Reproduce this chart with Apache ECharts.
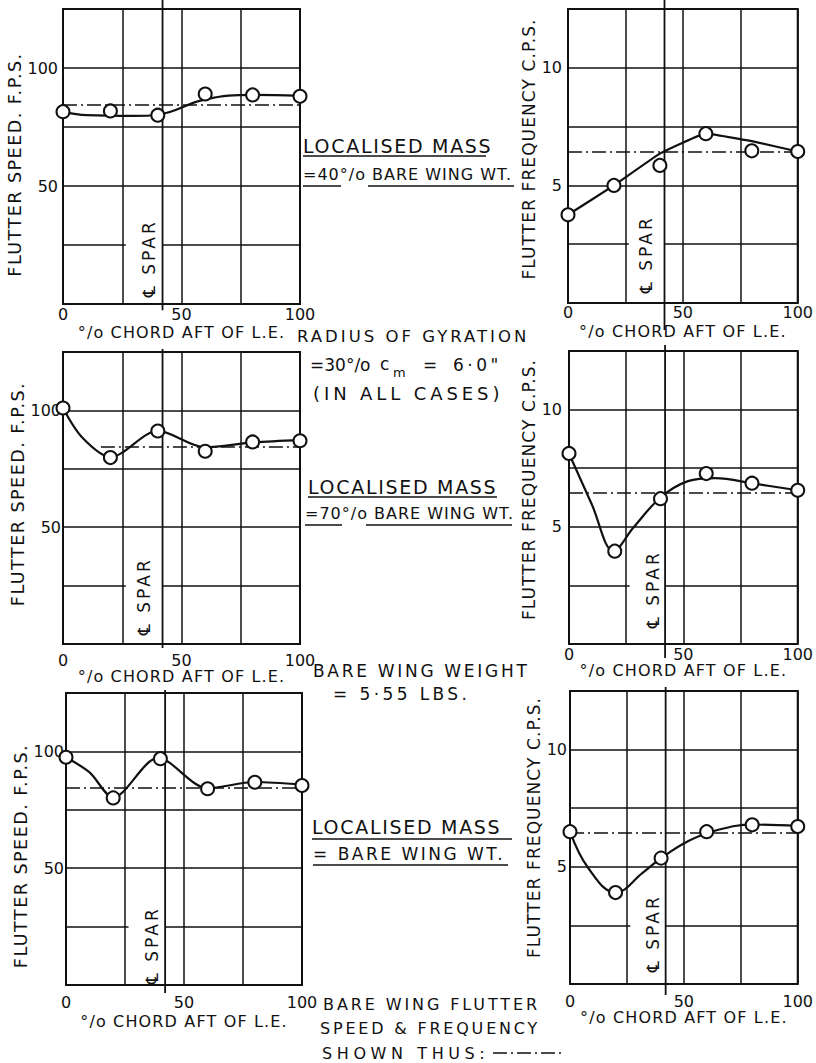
<!DOCTYPE html>
<html>
<head>
<meta charset="utf-8">
<title>Flutter speed and frequency vs. position of localised mass</title>
<script src="https://cdn.jsdelivr.net/npm/echarts@6.0.0/dist/echarts.min.js"></script>
<style>
  html, body { margin: 0; padding: 0; background: #fff; }
  #chart { width: 816px; height: 1063px; }
</style>
</head>
<body>
<div id="chart"></div>
<script>
// ---------------- data ----------------
// test positions of the localised mass, % chord aft of the leading edge
const chordPos = [0, 20, 40, 60, 80, 100];

// measured flutter speed (F.P.S.) and frequency (C.P.S.)
const speed40  = [81.5, 81.8, 80.0, 89.0, 88.6, 88.0];
const freq40   = [3.75, 5.0, 5.85, 7.2, 6.47, 6.44];
const speed70  = [101, 79.8, 91.2, 82.5, 86.5, 87.0];
const freq70   = [8.13, 3.96, 6.2, 7.27, 6.86, 6.56];
const speed100 = [97.5, 80.1, 96.9, 84.0, 86.8, 85.4];
const freq100  = [6.5, 3.9, 5.37, 6.5, 6.79, 6.72];

// faired curves drawn through the test points
const fair40SpeedX  = [0, 10, 30, 40, 60, 80, 100];
const fair40SpeedY  = [81.4, 80.0, 79.7, 80.2, 86.7, 88.6, 88.2];
const fair40FreqX   = [0, 20, 40, 60, 80, 100];
const fair40FreqY   = [3.75, 5.0, 6.35, 7.2, 6.88, 6.44];
const fair70SpeedX  = [0, 8, 20, 40, 60, 80, 100];
const fair70SpeedY  = [101, 88.5, 80.0, 91.2, 84.2, 86.3, 87.3];
const fair70FreqX   = [0, 10, 19.5, 28, 40, 52, 64, 81, 100];
const fair70FreqY   = [8.13, 5.95, 3.95, 4.95, 6.25, 6.95, 7.08, 6.84, 6.56];
const fair100SpeedX = [0, 10, 20, 39, 60, 80, 100];
const fair100SpeedY = [97.5, 91.0, 80.3, 97.2, 84.2, 86.9, 85.8];
const fair100FreqX  = [0, 8, 20, 32, 40, 52, 64, 80, 100];
const fair100FreqY  = [6.5, 4.95, 3.9, 4.75, 5.37, 6.1, 6.55, 6.8, 6.74];

// bare wing reference values and spar position
const bareSpeed = 84.5;
const bareFreq = 6.45;
const sparPos = 42;

// axis ticks and labelled values
const speedTicks = [0, 25, 50, 75, 100, 125];
const freqTicks  = [0, 2.5, 5, 7.5, 10, 12.5];
const chordTicks = [0, 25, 50, 75, 100];
const speedLabelled = [50, 100];
const freqLabelled  = [5, 10];
const chordLabelled = [0, 50, 100];

// ---------------- styling / layout ----------------
const INK = '#111';
const FONT = "'DejaVu Sans', 'Liberation Sans', sans-serif";
const CHORD_NAME = '°/o CHORD AFT OF L.E.';
const SPEED_NAME = 'FLUTTER SPEED. F.P.S.';
const FREQ_NAME  = 'FLUTTER FREQUENCY C.P.S.';
const DASH_DOT = [14, 4, 2, 4];

const panels = [
  { q: 'speed', pts: speed40, fx: fair40SpeedX, fy: fair40SpeedY, bareFrom: 0, smooth: 0.4,
    box: { left: 63, top: 9, width: 237, height: 295 },
    yNameGap: 31, yNameShift: 8, yLabelMargin: 5, xLabelMargin: 2, xNameGap: 20,
    sparEnds: [-2.6, 128.8], sparLabel: [7, 5] },
  { q: 'freq', pts: freq40, fx: fair40FreqX, fy: fair40FreqY, bareFrom: 0, smooth: 0.1,
    box: { left: 568, top: 9, width: 233, height: 294 },
    yNameGap: 22, yNameShift: -7, yLabelMargin: 6, xLabelMargin: 1, xNameGap: 20,
    sparEnds: [-1.15, 12.88], sparLabel: [10, 10] },
  { q: 'speed', pts: speed70, fx: fair70SpeedX, fy: fair70SpeedY, bareFrom: 16, smooth: 0.3,
    box: { left: 63, top: 352, width: 237, height: 292 },
    yNameGap: 31, yNameShift: -4, yLabelMargin: 2, xLabelMargin: 8, xNameGap: 20,
    sparEnds: [-1.7, 126.3], sparLabel: [9, 10] },
  { q: 'freq', pts: freq70, fx: fair70FreqX, fy: fair70FreqY, bareFrom: 0, smooth: 0.35,
    box: { left: 569, top: 351, width: 232, height: 293 },
    yNameGap: 23, yNameShift: -8, yLabelMargin: 7, xLabelMargin: 2, xNameGap: 18,
    sparEnds: [-0.6, 12.76], sparLabel: [16, 4] },
  { q: 'speed', pts: speed100, fx: fair100SpeedX, fy: fair100SpeedY, bareFrom: 0, smooth: 0.3,
    box: { left: 66, top: 693, width: 236, height: 292 },
    yNameGap: 30, yNameShift: 17, yLabelMargin: 2, xLabelMargin: 9, xNameGap: 28,
    sparEnds: [-3.4, 126.3], sparLabel: [1, 5] },
  { q: 'freq', pts: freq100, fx: fair100FreqX, fy: fair100FreqY, bareFrom: 0, smooth: 0.4,
    box: { left: 570, top: 691, width: 232, height: 293 },
    yNameGap: 22, yNameShift: -10, yLabelMargin: 3, xLabelMargin: 9, xNameGap: 24,
    sparEnds: [-0.47, 12.67], sparLabel: [12, 4] }
];

// letter spacing of the hand-lettered captions (px)
const SPACING = {
  [SPEED_NAME]: 1.5,
  [FREQ_NAME]: 1.1,
  [CHORD_NAME]: 1.15,
  '℄ SPAR': 3,
  'LOCALISED MASS': 1.7,
  '=40°/o BARE WING WT.': 1.0,
  '=70°/o BARE WING WT.': 1.0,
  'RADIUS OF GYRATION': 3.0,
  '(IN ALL CASES)': 3.9,
  'BARE WING WEIGHT': 2.7,
  '= 5·55 LBS.': 3.4,
  '= BARE WING WT.': 2.5,
  'BARE WING FLUTTER': 2.9,
  'SPEED & FREQUENCY': 2.8,
  'SHOWN THUS:': 4.6,
  '6·0"': 3.5
};

// ---------------- build option ----------------
const grid = [], xAxis = [], yAxis = [], series = [];

panels.forEach((p, i) => {
  const isSpeed = p.q === 'speed';
  const ticks = isSpeed ? speedTicks : freqTicks;
  const labelled = isSpeed ? speedLabelled : freqLabelled;
  const bare = isSpeed ? bareSpeed : bareFreq;
  const step = ticks[1] - ticks[0];
  const yTop = ticks[ticks.length - 1];
  const shift = p.yNameShift;

  grid.push(Object.assign({ show: true, borderColor: INK, borderWidth: 2,
    backgroundColor: 'transparent', containLabel: false }, p.box));

  xAxis.push({
    gridIndex: i, type: 'value', min: chordTicks[0], max: chordTicks[chordTicks.length - 1],
    interval: chordTicks[1] - chordTicks[0],
    name: CHORD_NAME, nameLocation: 'middle', nameGap: p.xNameGap,
    nameTextStyle: { fontFamily: FONT, fontSize: 16, color: INK },
    axisLine: { show: false }, axisTick: { show: false },
    axisLabel: { margin: p.xLabelMargin, fontFamily: FONT, fontSize: 16, color: INK,
      formatter: v => chordLabelled.includes(v) ? String(v) : '' },
    splitLine: { show: true, lineStyle: { color: INK, width: 1.5 } }
  });

  yAxis.push({
    gridIndex: i, type: 'value', min: ticks[0], max: yTop, interval: step,
    name: isSpeed ? SPEED_NAME : FREQ_NAME, nameLocation: 'middle', nameGap: p.yNameGap,
    nameTextStyle: { fontFamily: FONT, fontSize: isSpeed ? 17.5 : 17, color: INK,
      padding: shift > 0 ? [0, 2 * shift, 0, 0] : [0, 0, 0, -2 * shift] },
    axisLine: { show: false }, axisTick: { show: false },
    axisLabel: { margin: p.yLabelMargin, fontFamily: FONT, fontSize: 16, color: INK,
      formatter: v => labelled.includes(v) ? String(v) : '' },
    splitLine: { show: false }
  });

  // horizontal rulings; the lowest one is broken where the spar caption sits
  const rulings = [];
  ticks.slice(1, -1).forEach((v, k) => {
    if (k === 0) {
      rulings.push([{ coord: [0, v] }, { coord: [26.5, v] }]);
      rulings.push([{ coord: [sparPos, v] }, { coord: [100, v] }]);
    } else {
      rulings.push([{ coord: [0, v] }, { coord: [100, v] }]);
    }
  });

  // spar centre line (runs a little past the frame) with rulings and caption
  series.push({
    type: 'line', xAxisIndex: i, yAxisIndex: i, silent: true, clip: false, z: 2,
    data: [[sparPos, p.sparEnds[0]], [sparPos, p.sparEnds[1]]],
    symbol: 'none', lineStyle: { color: INK, width: 1.8 },
    markLine: {
      silent: true, symbol: 'none', animation: false,
      lineStyle: { color: INK, width: 1.5, type: 'solid' },
      label: { show: false },
      data: rulings.concat([{
        xAxis: sparPos,
        lineStyle: { color: 'rgba(0,0,0,0)', width: 0 },
        label: { show: true, formatter: '℄ SPAR', position: 'insideStartTop',
          distance: p.sparLabel, color: INK, fontFamily: FONT, fontSize: 17 }
      }])
    }
  });

  // bare wing value, dash-dot
  series.push({
    type: 'line', xAxisIndex: i, yAxisIndex: i, silent: true, z: 3, data: [],
    markLine: {
      silent: true, symbol: 'none', animation: false, label: { show: false },
      lineStyle: { color: INK, width: 1.5, type: DASH_DOT },
      data: [[{ coord: [p.bareFrom, bare] }, { coord: [100, bare] }]]
    }
  });

  // faired curve
  series.push({
    type: 'line', xAxisIndex: i, yAxisIndex: i, silent: true, z: 4,
    data: p.fx.map((x, k) => [x, p.fy[k]]),
    smooth: p.smooth, symbol: 'none',
    lineStyle: { color: INK, width: 2.2 }
  });

  // test points
  series.push({
    type: 'scatter', xAxisIndex: i, yAxisIndex: i, silent: true, z: 5,
    data: chordPos.map((x, k) => [x, p.pts[k]]),
    symbol: 'circle', symbolSize: 13,
    itemStyle: { color: '#fff', borderColor: INK, borderWidth: 2, opacity: 1 }
  });
});

// captions in the middle column
function caption(text, x, y, size, extra) {
  return Object.assign({ type: 'text', x: x, y: y, silent: true,
    style: { text: text, fontFamily: FONT, fontSize: size, fill: INK, verticalAlign: 'middle', align: 'left' } }, extra || {});
}
function rule(x1, x2, y, w) {
  return { type: 'line', silent: true, shape: { x1: x1, y1: y, x2: x2, y2: y },
    style: { stroke: INK, lineWidth: w || 1.5 } };
}

const graphic = [
  caption('LOCALISED MASS', 303, 145.5, 19),
  rule(303, 486, 156),
  caption('=40°/o BARE WING WT.', 303, 174.5, 16),
  rule(303, 341, 186), rule(368, 514, 186),

  caption('RADIUS OF GYRATION', 297, 336, 16.5),
  caption('=30°/o', 310, 365, 17),
  caption('c', 380, 364, 17),
  caption('m', 393, 372, 13),
  caption('=', 423, 365, 17),
  caption('6·0"', 453, 365, 17),
  caption('(IN ALL CASES)', 313, 393.5, 18),

  caption('LOCALISED MASS', 308, 486.5, 19),
  rule(308, 497, 497),
  caption('=70°/o BARE WING WT.', 305, 513.5, 16),
  rule(305, 342, 525), rule(366, 512, 525),

  caption('BARE WING WEIGHT', 313, 671, 17),
  caption('= 5·55 LBS.', 333, 694, 17),

  caption('LOCALISED MASS', 312, 826.5, 19),
  rule(312, 512, 839),
  caption('= BARE WING WT.', 313, 853.5, 17),
  rule(313, 508, 865),

  caption('BARE WING FLUTTER', 323, 1004, 16),
  caption('SPEED & FREQUENCY', 320, 1028, 16),
  caption('SHOWN THUS:', 322, 1053, 16),
  { type: 'line', silent: true, shape: { x1: 493, y1: 1053, x2: 562, y2: 1053 },
    style: { stroke: INK, lineWidth: 1.5, lineDash: DASH_DOT } }
];

const chart = echarts.init(document.getElementById('chart'), null, { renderer: 'svg' });
chart.setOption({
  animation: false,
  backgroundColor: '#fff',
  grid: grid, xAxis: xAxis, yAxis: yAxis, series: series, graphic: graphic
});

// open out the lettering of the captions
function spaceLetters() {
  document.querySelectorAll('#chart text').forEach(t => {
    const s = SPACING[t.textContent];
    if (s !== undefined) t.style.letterSpacing = s + 'px';
  });
}
spaceLetters();
chart.on('finished', spaceLetters);
chart.on('rendered', spaceLetters);
</script>
</body>
</html>
